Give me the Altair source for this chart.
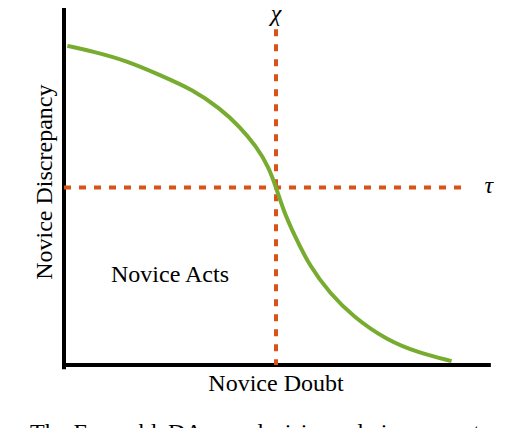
import altair as alt
import pandas as pd

# Curve, data units 0..100 on both axes
curve_x = [0.8, 6.9, 14.8, 22.6, 30.5, 36.8, 41.5, 45.4, 48.2, 50.0, 51.7, 54.1, 58.0, 62.7, 68.2, 76.1, 84.0, 91.4]
curve_y = [89.9, 88.3, 85.7, 81.7, 77.5, 72.3, 67.1, 61.5, 55.9, 50.1, 43.7, 37.1, 27.7, 20.2, 13.6, 7.0, 3.3, 1.1]

chi_x = 50.0          # vertical threshold (Novice Doubt)
tau_y = 50.0          # horizontal threshold (Novice Discrepancy)
chi_top = 94.6
tau_right = 95.3

labels = ["χ", "τ", "Novice Acts", "Novice Doubt"]
label_x = [50.0, 100.2, 25.0, 50.0]
label_y = [96.9, 48.5, 23.4, -7.3]

ytitle = "Novice Discrepancy"
caption_a = "2:"
caption_b = "The EnsembleDAgger decision rule is parameterized"

GREEN = "#77AC30"
ORANGE = "#D95319"
FONT = "Liberation Serif"

xs = alt.Scale(domain=[0, 100], zero=False, nice=False)
ys = alt.Scale(domain=[0, 100], zero=False, nice=False)

def X(f):
    return alt.X(f, type="quantitative", scale=xs, axis=None)

def Y(f):
    return alt.Y(f, type="quantitative", scale=ys, axis=None)

curve_df = pd.DataFrame({"x": curve_x, "y": curve_y})
curve = alt.Chart(curve_df).mark_line(color=GREEN, strokeWidth=4, interpolate="basis").encode(
    x=X("x"), y=Y("y"))

axes_df = pd.DataFrame({"x": [0, 0], "y": [-0.6, 0], "x2": [0, 100.2], "y2": [100, 0]})
axes = alt.Chart(axes_df).mark_rule(color="black", strokeWidth=4, strokeCap="square").encode(
    x=X("x"), y=Y("y"), x2="x2", y2="y2")

vdf = pd.DataFrame({"x": [chi_x], "y": [chi_top], "x2": [chi_x], "y2": [0]})
vline = alt.Chart(vdf).mark_rule(color=ORANGE, strokeWidth=4, strokeDash=[7, 8]).encode(
    x=X("x"), y=Y("y"), x2="x2", y2="y2")

hdf = pd.DataFrame({"x": [0], "y": [tau_y], "x2": [tau_right], "y2": [tau_y]})
hline = alt.Chart(hdf).mark_rule(color=ORANGE, strokeWidth=4, strokeDash=[7, 8]).encode(
    x=X("x"), y=Y("y"), x2="x2", y2="y2")

greek_df = pd.DataFrame({"x": label_x[:2], "y": label_y[:2], "t": labels[:2]})
greek = alt.Chart(greek_df).mark_text(font=FONT, fontSize=24, fontStyle="italic", color="black",
                                      align="center", baseline="alphabetic").encode(
    x=X("x"), y=Y("y"), text="t")

words_df = pd.DataFrame({"x": label_x[2:], "y": label_y[2:], "t": labels[2:]})
words = alt.Chart(words_df).mark_text(font=FONT, fontSize=24, color="black",
                                      align="center", baseline="alphabetic").encode(
    x=X("x"), y=Y("y"), text="t")

yt_df = pd.DataFrame({"x": [-2.8], "y": [51.5], "t": [ytitle]})
ytext = alt.Chart(yt_df).mark_text(font=FONT, fontSize=24, color="black", angle=270,
                                   align="center", baseline="alphabetic").encode(
    x=X("x"), y=Y("y"), text="t")

cap_df = pd.DataFrame({"x": [-11.5, -8.0], "y": [-21.0, -21.0], "t": [caption_a, caption_b]})
cap1 = alt.Chart(cap_df.iloc[[0]]).mark_text(font=FONT, fontSize=24, color="black",
                                             align="right", baseline="alphabetic").encode(
    x=X("x"), y=Y("y"), text="t")
cap2 = alt.Chart(cap_df.iloc[[1]]).mark_text(font=FONT, fontSize=24, color="black",
                                             align="left", baseline="alphabetic").encode(
    x=X("x"), y=Y("y"), text="t")

chart = alt.layer(axes, vline, hline, curve, greek, words, ytext, cap1, cap2).properties(
    width=424, height=355,
    autosize=alt.AutoSizeParams(type="none"),
    padding={"left": 56, "top": 2, "right": 10, "bottom": 63},
).configure_view(stroke=None)

chart.save("out.html", embed_options={"renderer": "svg", "actions": False})
